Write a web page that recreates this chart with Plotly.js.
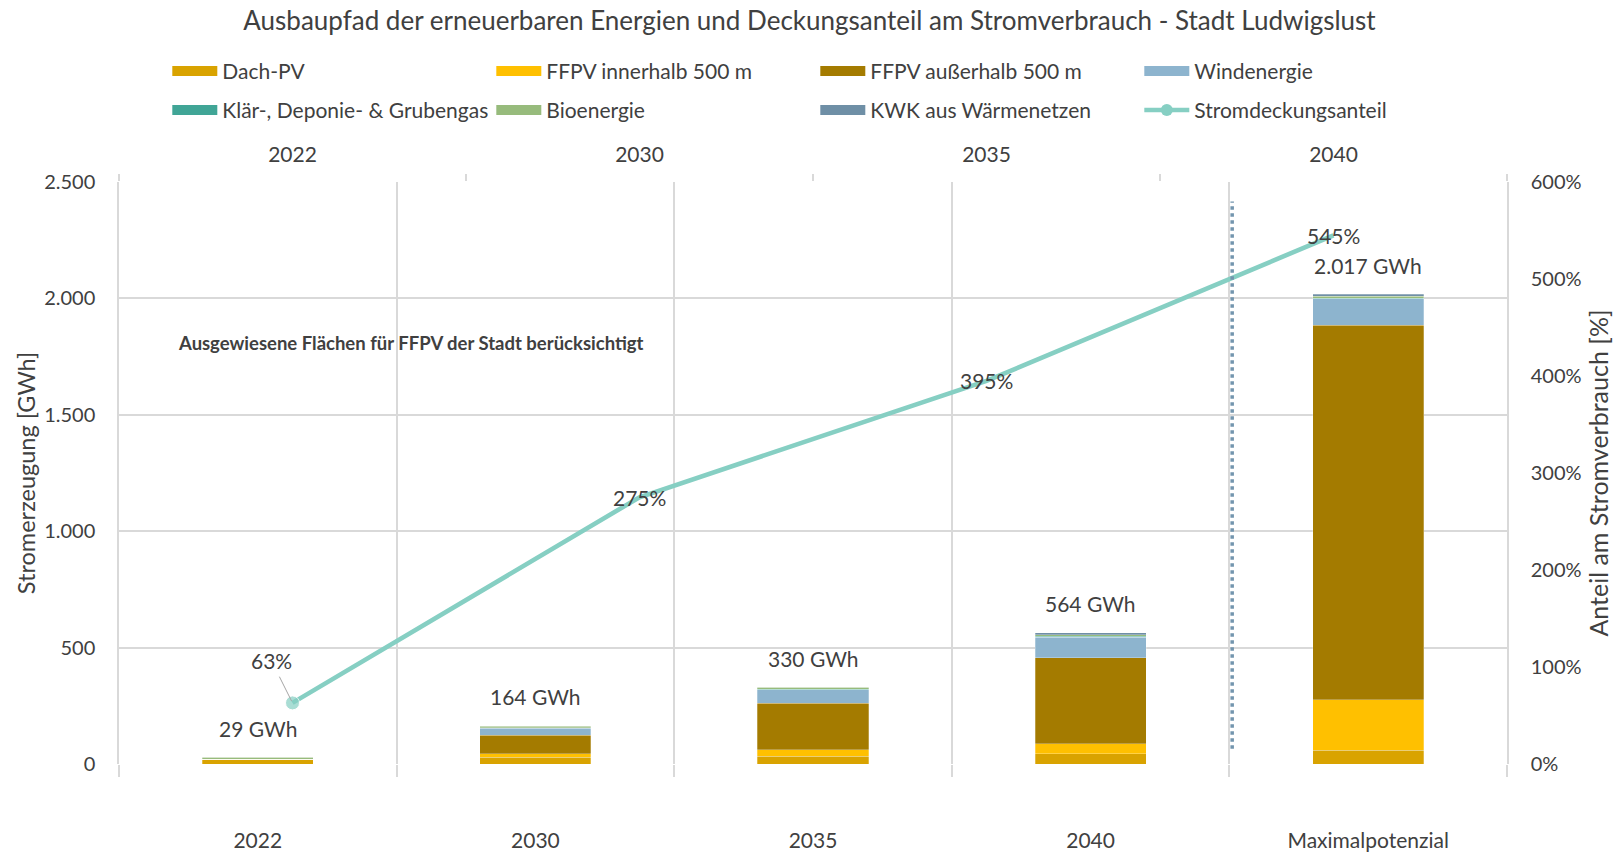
<!DOCTYPE html>
<html>
<head>
<meta charset="utf-8">
<script src="https://cdn.plot.ly/plotly-3.0.1.min.js"></script>
<style>html,body{margin:0;padding:0;background:#fff;}#chart{width:1619px;height:854px;}</style>
</head>
<body>
<div id="chart"></div>
<script>
// ---- data ----
const categories = ['2022', '2030', '2035', '2040', 'Maximalpotenzial'];
const lineYears = ['2022', '2030', '2035', '2040'];
const dachPV       = [20, 29, 33, 45, 59];
const ffpvInner    = [0, 16, 29, 42, 217];
const ffpvOuter    = [0, 79, 200, 370, 1608];
const wind         = [0, 30, 57, 87, 115];
const klaergas     = [1, 2, 3, 4, 2];
const bio          = [8, 7, 7, 8, 9];
const kwk          = [0, 1, 1, 8, 7];
const totals       = [29, 164, 330, 564, 2017];
const coverage     = [63, 275, 395, 545];
const yTicks       = [0, 500, 1000, 1500, 2000, 2500];
const y2Ticks      = [0, 100, 200, 300, 400, 500, 600];
const y2TickLabels = ['0%', '100%', '200%', '300%', '400%', '500%', '600%'];

const FONT = 'Lato, "Open Sans", sans-serif';
const TXT = '#404040';
const GRID = '#D9D9D9';
const LINE = '#86CFC3';

function fmt(n) { return String(n).replace(/\B(?=(\d{3})+(?!\d))/g, '.'); }

const series = [
  {name: 'Dach-PV', y: dachPV, color: '#D9A300', legend: 'legend'},
  {name: 'FFPV innerhalb 500 m', y: ffpvInner, color: '#FFC000', legend: 'legend'},
  {name: 'FFPV außerhalb 500 m', y: ffpvOuter, color: '#A47B00', legend: 'legend'},
  {name: 'Windenergie', y: wind, color: '#8DB4CE', legend: 'legend'},
  {name: 'Klär-, Deponie- & Grubengas', y: klaergas, color: '#40A596', legend: 'legend2'},
  {name: 'Bioenergie', y: bio, color: '#97BB7C', legend: 'legend2'},
  {name: 'KWK aus Wärmenetzen', y: kwk, color: '#6F8FA6', legend: 'legend2'}
];

const traces = [];
series.forEach((s, k) => {
  traces.push({
    type: 'bar', name: s.name, x: categories, y: s.y, xaxis: 'x', yaxis: 'y',
    marker: {color: s.color, line: {color: 'rgba(255,255,255,0.45)', width: 0.6}},
    width: 0.4, legendgroup: 'g' + k, showlegend: false, hoverinfo: 'name+y'
  });
  // legend entry drawn as a wide swatch
  traces.push({
    type: 'scatter', mode: 'lines', name: s.name, x: [null], y: [null], xaxis: 'x', yaxis: 'y',
    line: {color: s.color, width: 12}, legend: s.legend, legendgroup: 'g' + k, hoverinfo: 'skip'
  });
});

traces.push({
  type: 'scatter', mode: 'lines+markers', name: 'Stromdeckungsanteil',
  x: lineYears, y: coverage, xaxis: 'x2', yaxis: 'y2', showlegend: false, legendgroup: 'line',
  line: {color: LINE, width: 4.6},
  marker: {color: LINE, size: [14, 0, 0, 0]}
});
traces.push({
  type: 'scatter', mode: 'lines+markers', name: 'Stromdeckungsanteil',
  x: [null], y: [null], xaxis: 'x2', yaxis: 'y2', legend: 'legend2', legendgroup: 'line',
  line: {color: LINE, width: 4.6}, marker: {color: LINE, size: 12}, hoverinfo: 'skip'
});

const annotations = [];
categories.forEach((c, i) => {
  annotations.push({
    x: i, y: totals[i], xref: 'x', yref: 'y', text: fmt(totals[i]) + ' GWh',
    showarrow: false, yanchor: 'middle', yshift: 29,
    font: {family: FONT, size: 21, color: TXT}
  });
});
lineYears.forEach((c, i) => {
  const a = {
    x: i, y: coverage[i], xref: 'x2', yref: 'y2', text: coverage[i] + '%',
    font: {family: FONT, size: 21, color: TXT}
  };
  if (i === 0) {
    Object.assign(a, {showarrow: true, ax: -21, ay: -42, arrowhead: 0, arrowwidth: 1,
      arrowcolor: '#A6A6A6', standoff: 2, startstandoff: 2});
  } else {
    a.showarrow = false;
  }
  annotations.push(a);
});
annotations.push({
  xref: 'paper', yref: 'paper', x: 0.041, y: 0.723, xanchor: 'left', yanchor: 'middle',
  text: '<b>Ausgewiesene Flächen für FFPV der Stadt berücksichtigt</b>', showarrow: false,
  font: {family: FONT, size: 18.5, color: TXT}
});

const legendBase = {
  orientation: 'h', x: 0.0348, xanchor: 'left', yanchor: 'middle',
  entrywidth: 264, entrywidthmode: 'pixels', traceorder: 'normal', itemwidth: 45,
  font: {family: FONT, size: 21, color: TXT}, bgcolor: 'rgba(0,0,0,0)'
};

const layout = {
  width: 1619, height: 854,
  margin: {l: 119, r: 112, t: 182, b: 90},
  paper_bgcolor: '#fff', plot_bgcolor: '#fff',
  separators: ',.',
  font: {family: FONT, size: 20, color: TXT},
  barmode: 'stack',
  title: {text: 'Ausbaupfad der erneuerbaren Energien und Deckungsanteil am Stromverbrauch - Stadt Ludwigslust',
    x: 0.5, xanchor: 'center', y: 0.975, yanchor: 'middle', font: {family: FONT, size: 26, color: TXT}},
  showlegend: true,
  legend: Object.assign({}, legendBase, {y: 1.190}),
  legend2: Object.assign({}, legendBase, {y: 1.123}),
  xaxis: {
    type: 'category', categoryorder: 'array', categoryarray: categories, range: [-0.5, 4.5],
    tickson: 'boundaries', ticks: 'outside', ticklen: 12, tickwidth: 1.5, tickcolor: GRID,
    showgrid: true, gridcolor: GRID, gridwidth: 1.5, showline: false, zeroline: false,
    ticklabelstandoff: 62, tickfont: {family: FONT, size: 21, color: TXT}
  },
  xaxis2: {
    type: 'category', categoryorder: 'array', categoryarray: lineYears, range: [-0.5, 3.5],
    overlaying: 'x', side: 'top', anchor: 'y',
    tickson: 'boundaries', ticks: 'outside', ticklen: 7, tickwidth: 1.5, tickcolor: GRID,
    showgrid: false, showline: false, zeroline: false,
    ticklabelstandoff: 15, tickfont: {family: FONT, size: 21, color: TXT}
  },
  yaxis: {
    range: [0, 2500], tickvals: yTicks, tickformat: ',d', showgrid: true, gridcolor: GRID, gridwidth: 1.5,
    zeroline: false, showline: true, linecolor: GRID, linewidth: 1.5, ticks: '', ticklabelstandoff: 18,
    tickfont: {family: FONT, size: 20, color: TXT},
    title: {text: 'Stromerzeugung [GWh]', standoff: 2, font: {family: FONT, size: 23.5, color: TXT}}
  },
  yaxis2: {
    range: [0, 600], tickvals: y2Ticks, ticktext: y2TickLabels, overlaying: 'y', side: 'right', anchor: 'x',
    showgrid: false, zeroline: false, showline: true, linecolor: GRID, linewidth: 1.5, ticks: '', ticklabelstandoff: 18,
    tickfont: {family: FONT, size: 20, color: TXT},
    title: {text: 'Anteil am Stromverbrauch [%]', standoff: 10, font: {family: FONT, size: 25, color: TXT}}
  },
  shapes: [{
    type: 'line', xref: 'x', yref: 'y', x0: 3.51, x1: 3.51, y0: 66, y1: 2416,
    line: {color: '#7395AE', width: 3.5, dash: 'dot'}
  }],
  annotations: annotations
};

Plotly.newPlot('chart', traces, layout, {displayModeBar: false, responsive: false});
</script>
</body>
</html>
